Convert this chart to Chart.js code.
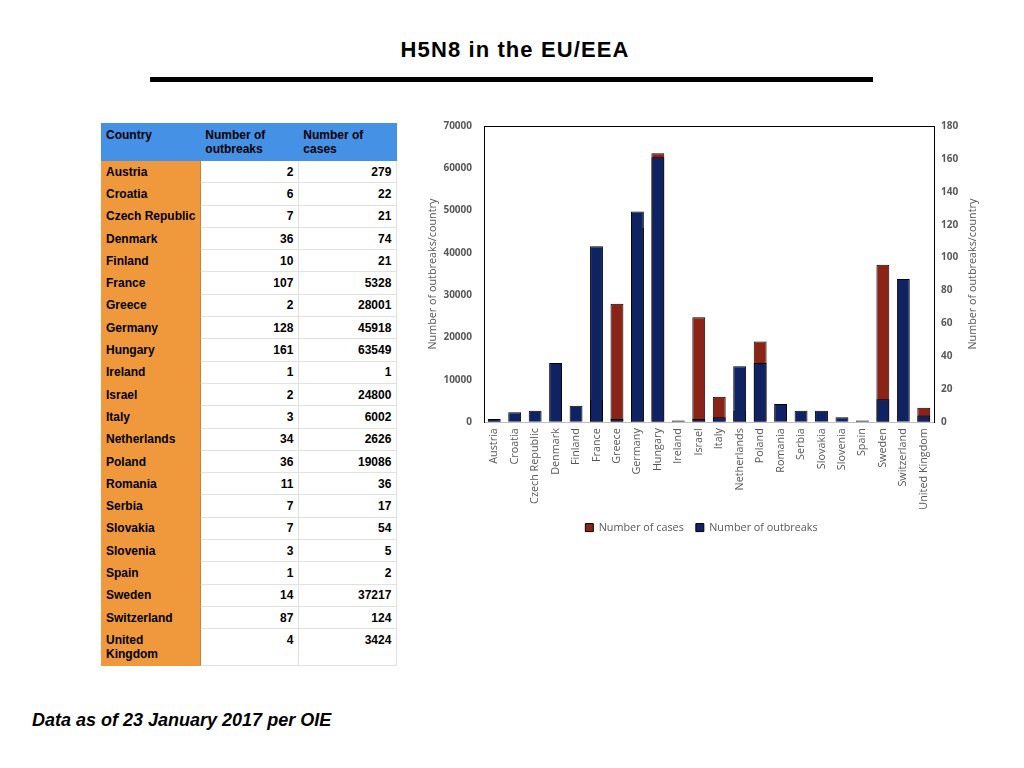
<!DOCTYPE html>
<html>
<head>
<meta charset="utf-8">
<script src="https://cdn.jsdelivr.net/npm/chart.js@4.4.1/dist/chart.umd.min.js"></script>
<style>
  html, body { margin: 0; padding: 0; background: #fff; }
  body { width: 1024px; height: 768px; position: relative; overflow: hidden; font-family: "Liberation Sans", Arial, sans-serif; }
  #title { position: absolute; left: 3px; width: 1024px; top: 37px; text-align: center; font-weight: bold; font-size: 22px; letter-spacing: 1.1px; color: #000; }
  #rule { position: absolute; left: 150px; top: 77px; width: 723px; height: 5px; background: #000; }
  #tbl { position: absolute; left: 101px; top: 123px; border-collapse: collapse; table-layout: fixed; font-size: 12px; font-weight: bold; color: #000; }
  #tbl td { border: 1px solid #e2e2e2; padding: 0 5px 0 4px; height: 22.3px; box-sizing: border-box; line-height: 14px; white-space: nowrap; }
  #tbl td.c { background: #f0993c; border-color: #f0993c #c98033 #f0993c #f0993c; }
  #tbl td.n { text-align: right; background: #fff; }
  #tbl tr.h td { background: #4591e6; border-color: #4591e6; height: 37px; vertical-align: top; padding-top: 4px; white-space: normal; }
  #tbl tr.last td { height: 36.7px; vertical-align: top; padding-top: 4px; white-space: normal; }
  #chartBox { position: absolute; left: 420px; top: 108px; width: 570px; height: 440px; }
  #foot { position: absolute; left: 32px; top: 710px; font-size: 18px; font-weight: bold; font-style: italic; color: #000; }
</style>
</head>
<body>
<div id="title">H5N8 in the EU/EEA</div>
<div id="rule"></div>
<table id="tbl">
  <colgroup><col style="width:98px"><col style="width:98px"><col style="width:98px"></colgroup>
  <tbody id="tblBody"></tbody>
</table>
<div id="chartBox"><canvas id="chartH5N8"></canvas></div>
<div id="foot">Data as of 23 January 2017 per OIE</div>

<script>
const countries = [
  "Austria", "Croatia", "Czech Republic", "Denmark", "Finland", "France",
  "Greece", "Germany", "Hungary", "Ireland", "Israel", "Italy",
  "Netherlands", "Poland", "Romania", "Serbia", "Slovakia", "Slovenia",
  "Spain", "Sweden", "Switzerland", "United Kingdom",
];
const outbreaks = [2, 6, 7, 36, 10, 107, 2, 128, 161, 1, 2, 3, 34, 36, 11, 7, 7, 3, 1, 14, 87, 4];
const cases = [279, 22, 21, 74, 21, 5328, 28001, 45918, 63549, 1, 24800, 6002, 2626, 19086, 36, 17, 54, 5, 2, 37217, 124, 3424];
const tableHeaders = ["Country", "Number of outbreaks", "Number of cases"];
const axisTitle = "Number of outbreaks/country";

const colorCases = "#8b2316";
const colorOutbreaks = "#0f2262";
const tickColor = "#595959";
const chartFont = "'Open Sans', 'DejaVu Sans', sans-serif";

// tabla
const tbody = document.getElementById("tblBody");
const headRow = document.createElement("tr");
headRow.className = "h";
tableHeaders.forEach((h) => {
  const td = document.createElement("td");
  td.textContent = h;
  headRow.appendChild(td);
});
tbody.appendChild(headRow);

countries.forEach((c, i) => {
  const tr = document.createElement("tr");
  if (i === countries.length - 1) tr.className = "last";
  const tdC = document.createElement("td");
  tdC.className = "c";
  tdC.textContent = c;
  const tdO = document.createElement("td");
  tdO.className = "n";
  tdO.textContent = outbreaks[i];
  const tdK = document.createElement("td");
  tdK.className = "n";
  tdK.textContent = cases[i];
  tr.appendChild(tdC);
  tr.appendChild(tdO);
  tr.appendChild(tdK);
  tbody.appendChild(tr);
});

// titulo del eje derecho, leido de abajo hacia arriba como el izquierdo
const rightTitlePlugin = {
  id: "rightTitle",
  afterDraw(chart) {
    const scale = chart.scales.yR;
    const c = chart.ctx;
    c.save();
    c.translate(scale.right - 10, (scale.top + scale.bottom) / 2);
    c.rotate(-Math.PI / 2);
    c.textAlign = "center";
    c.textBaseline = "middle";
    c.fillStyle = tickColor;
    c.font = "10.8px " + chartFont;
    c.fillText(axisTitle, 0, 0);
    c.restore();
  },
};

const ctx = document.getElementById("chartH5N8");

new Chart(ctx, {
  type: "bar",
  data: {
    labels: countries,
    datasets: [
      {
        label: "Number of cases",
        data: cases,
        yAxisID: "yL",
        backgroundColor: colorCases,
        borderColor: "#000",
        borderWidth: 1,
        order: 1,
      },
      {
        label: "Number of outbreaks",
        data: outbreaks,
        yAxisID: "yR",
        backgroundColor: colorOutbreaks,
        borderColor: "#000",
        borderWidth: 1,
        order: 0,
      },
    ],
  },
  options: {
    responsive: true,
    maintainAspectRatio: false,
    animation: false,
    layout: { padding: { top: 18, right: 7, bottom: 5, left: 0 } },
    datasets: {
      bar: { categoryPercentage: 1, barPercentage: 0.63 },
    },
    plugins: {
      tooltip: { enabled: false },
      legend: {
        position: "bottom",
        reverse: true,
        labels: {
          boxWidth: 8,
          boxHeight: 8,
          padding: 12,
          color: tickColor,
          font: { family: chartFont, size: 10.8 },
        },
      },
    },
    scales: {
      x: {
        stacked: true,
        grid: { display: true, drawOnChartArea: false, drawTicks: false },
        border: { display: true, color: "#bfbfbf", width: 1 },
        ticks: {
          autoSkip: false,
          maxRotation: 90,
          minRotation: 90,
          padding: 6,
          color: tickColor,
          font: { family: chartFont, size: 10.8 },
        },
        afterFit: (scale) => { scale.height = 88; },
      },
      xTop: {
        position: "top",
        grid: { display: true, drawOnChartArea: false, drawTicks: false },
        border: { display: true, color: "#000", width: 1 },
        ticks: { display: false },
        afterFit: (scale) => { scale.height = 0; },
      },
      yL: {
        position: "left",
        min: 0,
        max: 70000,
        grid: { display: true, drawOnChartArea: false, drawTicks: false },
        border: { display: true, color: "#000", width: 1 },
        ticks: {
          stepSize: 10000,
          padding: 12,
          color: tickColor,
          font: { family: chartFont, size: 10, weight: "bold" },
          callback: (v) => String(v),
        },
        title: {
          display: true,
          text: axisTitle,
          color: tickColor,
          padding: { top: 6, bottom: 4 },
          font: { family: chartFont, size: 10.8 },
        },
        afterFit: (scale) => { scale.width = 64; },
      },
      yR: {
        position: "right",
        min: 0,
        max: 180,
        grid: { display: true, drawOnChartArea: false, drawTicks: false },
        border: { display: true, color: "#000", width: 1 },
        ticks: {
          stepSize: 20,
          padding: 7,
          color: tickColor,
          font: { family: chartFont, size: 10, weight: "bold" },
          callback: (v) => String(v),
        },
        afterFit: (scale) => { scale.width = 49; },
      },
    },
  },
  plugins: [rightTitlePlugin],
});
</script>
</body>
</html>
